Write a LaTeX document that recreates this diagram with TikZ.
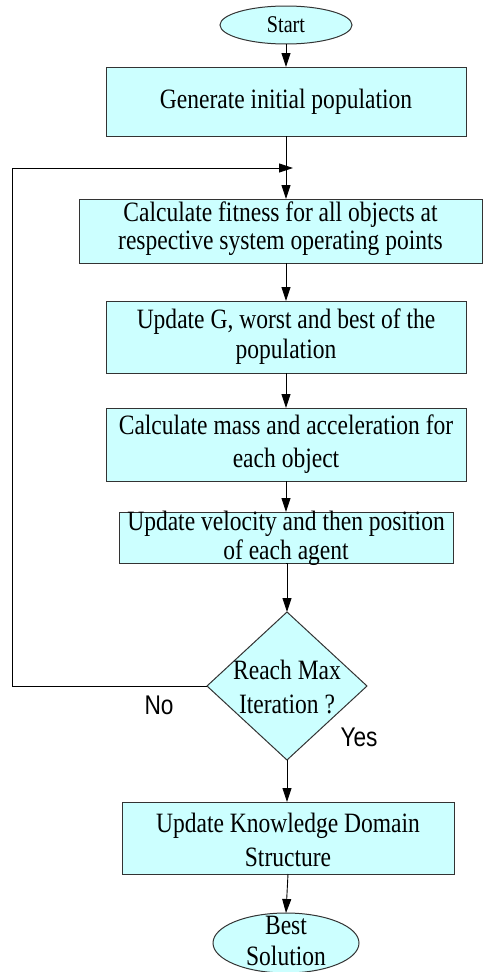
\documentclass[tikz,border=0pt]{standalone}
\usepackage{fontspec}
\setmainfont{Liberation Serif}[FakeStretch=0.84]
\newfontfamily\labfont{Liberation Sans}[FakeStretch=0.84]
\usetikzlibrary{shapes.geometric,arrows.meta}
\definecolor{boxfill}{HTML}{CCFFFF}
\definecolor{edge}{HTML}{333333}
\begin{document}
\begin{tikzpicture}[x=1pt,y=-1pt,
  shp/.style={draw=edge,fill=boxfill,line width=1pt,inner sep=0pt,outer sep=0pt},
  boxshape/.style={shp,rectangle},
  ovalshape/.style={shp,ellipse},
  dshape/.style={shp,diamond},
  txt/.style={align=center,inner sep=0pt,font=\fontsize{28}{30}\selectfont},
  arr/.style={draw=black,line width=0.9pt,-{Triangle[length=14pt,width=9pt]}},
  lab/.style={inner sep=0pt,font=\labfont\fontsize{27}{30}\selectfont}]
\useasboundingbox (0,0) rectangle (483,972);
% shapes
\node[ovalshape,minimum width=132,minimum height=38] (start) at (286,25) {};
\node[boxshape,minimum width=360,minimum height=69] (gen) at (286,101.5) {};
\node[boxshape,minimum width=403,minimum height=64] (fit) at (280.5,231) {};
\node[boxshape,minimum width=360,minimum height=72] (updg) at (286,337) {};
\node[boxshape,minimum width=360,minimum height=73] (mass) at (286,444.5) {};
\node[boxshape,minimum width=334,minimum height=51] (vel) at (286,537.5) {};
\node[dshape,minimum width=160,minimum height=148] (dia) at (287,686) {};
\node[boxshape,minimum width=332,minimum height=72] (know) at (288,838) {};
\node[ovalshape,minimum width=146,minimum height=60] (best) at (286,943) {};
% texts
\node[txt,font=\fontsize{24}{26}\selectfont] (tstart) at (start) {Start};
\node[txt] (tgen) at (gen) {Generate initial population};
\node[txt,font=\fontsize{28}{28}\selectfont] (tfit) at ([yshift=2]fit.center) {Calculate fitness for all objects at\\respective system operating points};
\node[txt,font=\fontsize{28}{30}\selectfont] (tupdg) at (updg) {Update G, worst and best of the\\population};
\node[txt,font=\fontsize{28}{33}\selectfont] (tmass) at (mass) {Calculate mass and acceleration for\\each object};
\node[txt,font=\fontsize{28}{29}\selectfont] (tvel) at ([yshift=-1]vel.center) {Update velocity and then position\\of each agent};
\node[txt,font=\fontsize{28}{34}\selectfont] (tdia) at ([yshift=-1]dia.center) {Reach Max\\Iteration ?};
\node[txt,font=\fontsize{28}{34}\selectfont] (tknow) at ([yshift=-2]know.center) {Update Knowledge Domain\\Structure};
\node[txt,font=\fontsize{28}{31}\selectfont] (tbest) at ([yshift=2]best.center) {Best\\Solution};
\node[lab] (no) at (159,705) {No};
\node[lab] (yes) at (359,737) {Yes};
% helper coordinates
\coordinate (loopT) at (12,168);
\coordinate (merge) at (293,168);
% connectors
\draw[arr] (start.south) -- (start.south |- gen.north);
\draw[arr] (gen.south) -- (gen.south |- fit.north);
\draw[arr] (gen.south |- fit.south) -- (updg.north);
\draw[arr] (updg.south) -- (mass.north);
\draw[arr] (mass.south) -- (vel.north);
\draw[arr] (vel.south) -- (vel.south -| dia.north) -- (dia.north);
\draw[arr] (dia.south) -- (dia.south |- know.north);
\draw[arr] (know.south) -- (best.north);
\draw[arr] (dia.west) -- (dia.west -| loopT) -- (loopT) -- (merge);
\end{tikzpicture}
\end{document}
